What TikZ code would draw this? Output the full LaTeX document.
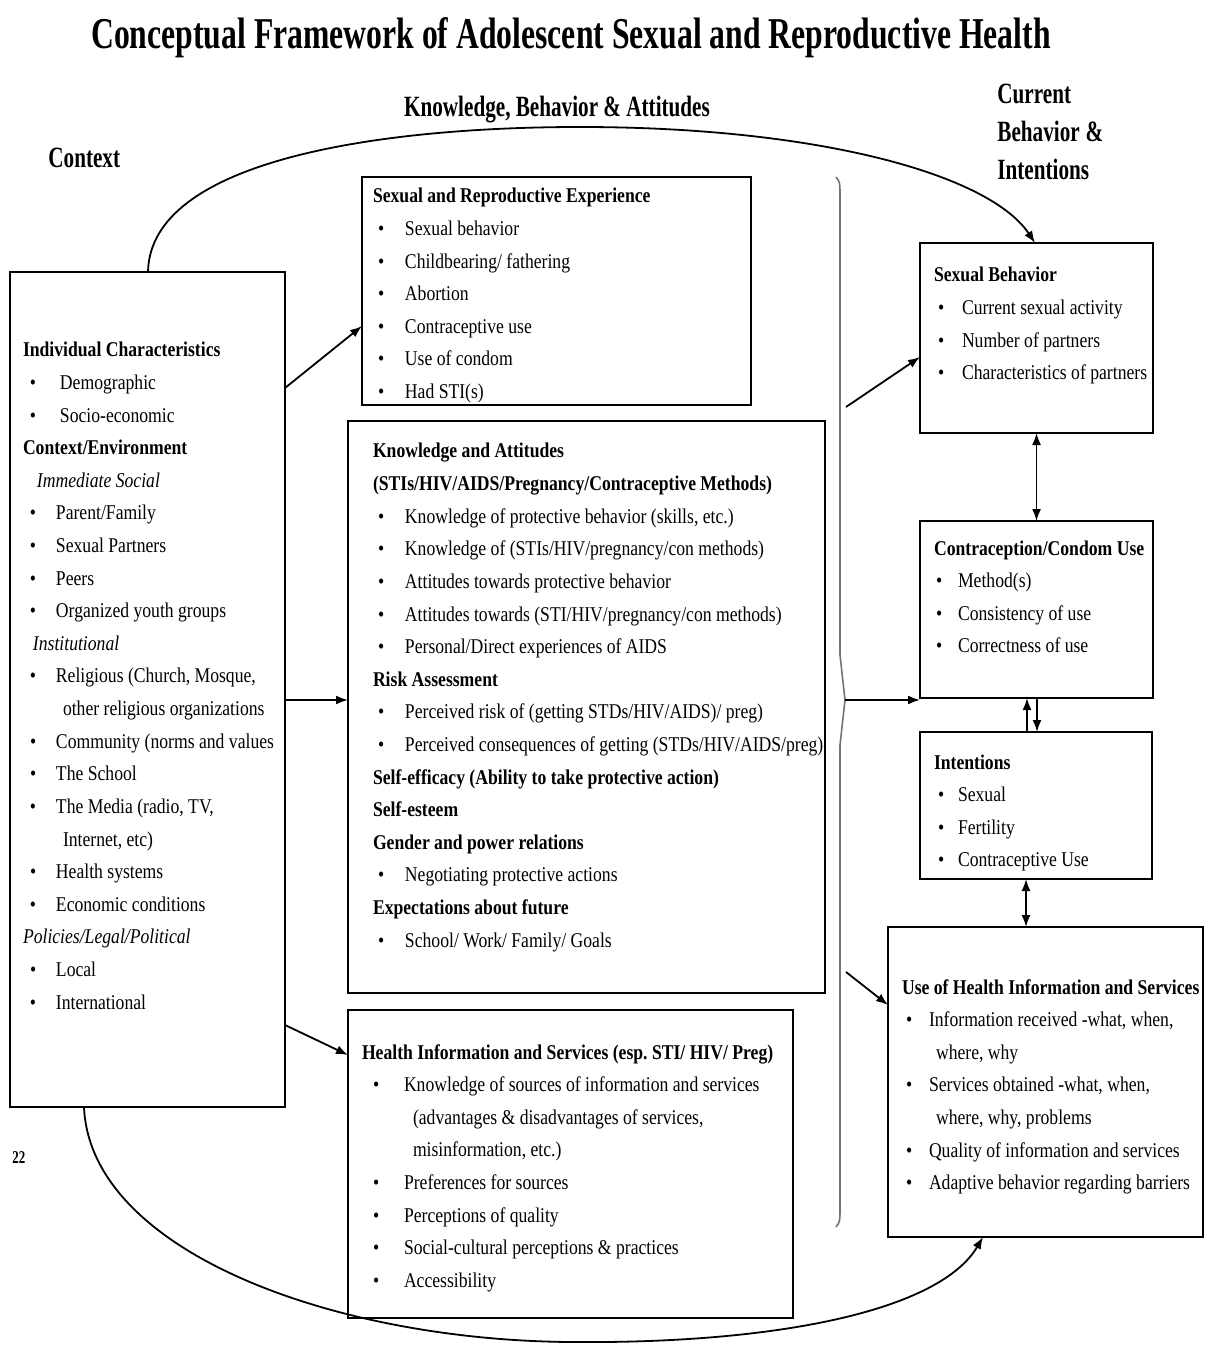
\documentclass[tikz,border=0pt]{standalone}
\usepackage{fontspec}
\setmainfont{Liberation Serif}[FakeStretch=0.84]
\newfontfamily\headfont{Liberation Serif}[FakeStretch=0.72]
\usetikzlibrary{arrows.meta}
\newlength\bo \newlength\bw
\newcommand\bl[1]{\hspace*{\bo}\makebox[\bw][l]{\textbullet}#1}
\begin{document}
\begin{tikzpicture}[x=0.5pt,y=-0.5pt,
  box/.style={draw, line width=1pt, inner sep=0pt, outer sep=0pt, anchor=north west},
  txt/.style={anchor=base west, inner sep=0pt, outer sep=0pt, text width=260pt,
              font=\fontsize{10.5}{16.3}\selectfont},
  bul/.style 2 args={execute at begin node={\setlength\bo{#1}\setlength\bw{#2}%
      \spaceskip=2.2pt plus 0.5pt\relax\xspaceskip=2.2pt plus 0.5pt\relax}},
  head/.style={font=\headfont\bfseries\fontsize{14.7}{19}\selectfont, inner sep=0pt},
  arr/.style={line width=0.9pt, -{Latex[length=6pt,width=4.5pt]}},
  darr/.style={line width=0.9pt, {Latex[length=6pt,width=4.5pt]}-{Latex[length=6pt,width=4.5pt]}},
  brace/.style={line width=0.8pt, black!55}]
\useasboundingbox (0,0) rectangle (1206,1347);

% headings
\node[anchor=base, inner sep=0pt, font=\headfont\bfseries\fontsize{22}{26}\selectfont] (title) at (571,49)
  {Conceptual Framework of Adolescent Sexual and Reproductive Health};
\node[head, anchor=base] (hkba) at (557,117) {Knowledge, Behavior \& Attitudes};
\node[head, anchor=base west] (hctx) at (48,168) {Context};
\node[head, anchor=base west, text width=70pt,
      execute at begin node={\spaceskip=3pt\relax\xspaceskip=3pt\relax}] (hcur) at (997,104)
  {Current\\Behavior \&\\Intentions};
\node[anchor=base west, inner sep=0pt, font=\headfont\bfseries\fontsize{9}{10}\selectfont] (pg) at (12,1163) {22};

% boxes
\node[box, minimum width=137.5pt, minimum height=417.5pt] (ctx) at (10,272) {};
\node[box, minimum width=194.5pt, minimum height=114pt] (sre) at (362,177) {};
\node[box, minimum width=238.5pt, minimum height=286pt] (ka) at (348,421) {};
\node[box, minimum width=222.5pt, minimum height=154pt] (his) at (348,1010) {};
\node[box, minimum width=116.5pt, minimum height=95pt] (sb) at (920,243) {};
\node[box, minimum width=116.5pt, minimum height=88.5pt] (ccu) at (920,521) {};
\node[box, minimum width=116pt, minimum height=73.5pt] (int) at (920,732) {};
\node[box, minimum width=157.5pt, minimum height=155pt] (uhis) at (888,927) {};

% texts
\node[txt, bul={3.5pt}{13pt}] (tctx) at (23,357) {%
\textbf{Individual Characteristics}\\
\hspace*{3.5pt}\makebox[15pt][l]{\textbullet}Demographic\\
\hspace*{3.5pt}\makebox[15pt][l]{\textbullet}Socio-economic\\
\textbf{Context/Environment}\\
\hspace*{7pt}\textit{Immediate Social}\\
\bl{Parent/Family}\\
\bl{Sexual Partners}\\
\bl{Peers}\\
\bl{Organized youth groups}\\
\hspace*{5pt}\textit{Institutional}\\
\bl{Religious (Church, Mosque,}\\
\hspace*{20pt}other religious organizations\\
\bl{Community (norms and values}\\
\bl{The School}\\
\bl{The Media (radio, TV,}\\
\hspace*{20pt}Internet, etc)\\
\bl{Health systems}\\
\bl{Economic conditions}\\
\textit{Policies/Legal/Political}\\
\bl{Local}\\
\bl{International}};

\node[txt, bul={2.5pt}{13.5pt}] (tsre) at (373,203) {%
\textbf{Sexual and Reproductive Experience}\\
\bl{Sexual behavior}\\
\bl{Childbearing/ fathering}\\
\bl{Abortion}\\
\bl{Contraceptive use}\\
\bl{Use of condom}\\
\bl{Had STI(s)}};

\node[txt, bul={2.5pt}{13.5pt}] (tka) at (373,458) {%
\textbf{Knowledge and Attitudes}\\
\textbf{(STIs/HIV/AIDS/Pregnancy/Contraceptive Methods)}\\
\bl{Knowledge of protective behavior (skills, etc.)}\\
\bl{Knowledge of (STIs/HIV/pregnancy/con methods)}\\
\bl{Attitudes towards protective behavior}\\
\bl{Attitudes towards (STI/HIV/pregnancy/con methods)}\\
\bl{Personal/Direct experiences of AIDS}\\
\textbf{Risk Assessment}\\
\bl{Perceived risk of (getting STDs/HIV/AIDS)/ preg)}\\
\bl{Perceived consequences of getting (STDs/HIV/AIDS/preg)}\\
\textbf{Self-efficacy (Ability to take protective action)}\\
\textbf{Self-esteem}\\
\textbf{Gender and power relations}\\
\bl{Negotiating protective actions}\\
\textbf{Expectations about future}\\
\bl{School/ Work/ Family/ Goals}};

\node[txt, bul={5.5pt}{15.5pt}] (this) at (362,1059) {%
\textbf{Health Information and Services (esp. STI/ HIV/ Preg)}\\
\bl{Knowledge of sources of information and services}\\
\hspace*{25.5pt}(advantages \& disadvantages of services,\\
\hspace*{25.5pt}misinformation, etc.)\\
\bl{Preferences for sources}\\
\bl{Perceptions of quality}\\
\bl{Social-cultural perceptions \& practices}\\
\bl{Accessibility}};

\node[txt, bul={2pt}{12pt}] (tsb) at (934,282) {%
\textbf{Sexual Behavior}\\
\bl{Current sexual activity}\\
\bl{Number of partners}\\
\bl{Characteristics of partners}};

\node[txt, bul={1pt}{11pt}] (tccu) at (934,555) {%
\textbf{Contraception/Condom Use}\\
\bl{Method(s)}\\
\bl{Consistency of use}\\
\bl{Correctness of use}};

\node[txt, bul={2pt}{10pt}] (tint) at (934,769) {%
\textbf{Intentions}\\
\bl{Sexual}\\
\bl{Fertility}\\
\bl{Contraceptive Use}};

\node[txt, bul={2pt}{11.5pt}] (tuhis) at (902,994) {%
\textbf{Use of Health Information and Services}\\
\bl{Information received -what, when,}\\
\hspace*{17pt}where, why\\
\bl{Services obtained -what, when,}\\
\hspace*{17pt}where, why, problems\\
\bl{Quality of information and services}\\
\bl{Adaptive behavior regarding barriers}};

% brace
\coordinate (brtip) at (845,700);
\coordinate (brtop) at (846,407);
\coordinate (brbot) at (846,972);
\draw[brace] (836,177) .. controls (840,182) .. (840,200) -- (840,655) -- (brtip)
  -- (840,745) -- (840,1205) .. controls (840,1222) .. (836,1227);

% arrows from context box
\draw[arr] (ctx.east |- 0,388) -- (sre.west |- 0,326);
\draw[arr] (ctx.east |- 0,700) -- (ka.west |- 0,700);
\draw[arr] (ctx.east |- 0,1025) -- (his.west |- 0,1055);

% arrows from brace
\draw[arr] (brtop) -- (sb.west |- 0,357);
\draw[arr] (brtip) -- (ccu.west |- brtip);
\draw[arr] (brbot) -- (uhis.west |- 0,1005);

% arrows between right boxes
\draw[darr] (sb.south) -- (ccu.north);
\draw[arr] (int.north -| 1027,0) -- (ccu.south -| 1027,0);
\draw[arr] (ccu.south -| 1037,0) -- (int.north -| 1037,0);
\draw[darr] (int.south -| 1026,0) -- (uhis.north -| 1026,0);

% long curved arrows
\draw[arr] (ctx.north -| 148,0) .. controls (150,160) and (380,127) .. (580,127)
  .. controls (820,127) and (990,175) .. (sb.north -| 1035,0);
\draw[arr] (ctx.south -| 84,0) .. controls (90,1250) and (330,1340) .. (570,1342)
  .. controls (780,1344) and (940,1310) .. (uhis.south -| 983,0);
\end{tikzpicture}
\end{document}
